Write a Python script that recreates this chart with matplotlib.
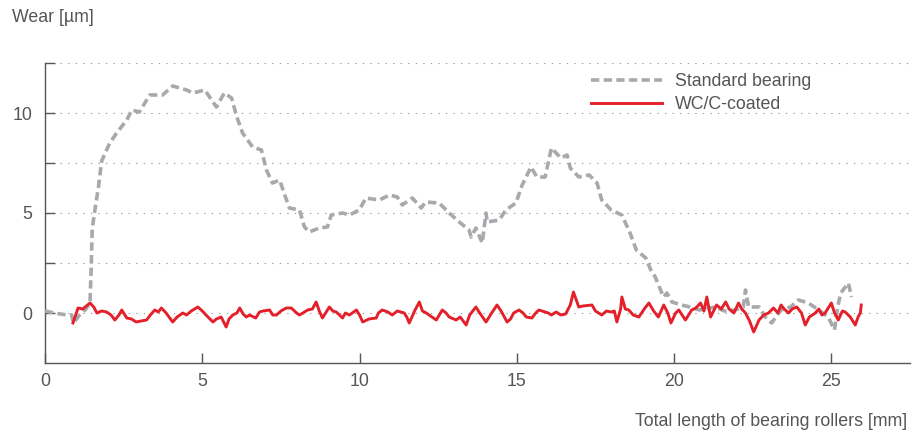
import matplotlib.pyplot as plt
import numpy as np

plt.rcParams['font.family'] = ['Liberation Sans', 'DejaVu Sans']

# Wear profile of the uncoated bearing
std_x = [0.0, 0.3, 0.5, 0.7, 0.85, 0.9, 1.1, 1.3, 1.43, 1.47, 1.5, 1.6, 1.7, 1.8,
         2.06, 2.3, 2.6, 2.76, 3.0, 3.33, 3.74, 4.06, 4.5, 4.7, 5.08, 5.45, 5.7,
         5.93, 6.1, 6.28, 6.6, 6.88, 7.04, 7.23, 7.46, 7.6, 7.77, 8.09, 8.25, 8.4,
         8.72, 8.98, 9.1, 9.46, 9.68, 9.99, 10.2, 10.63, 10.95, 11.2, 11.36, 11.68,
         11.96, 12.1, 12.53, 12.85, 13.17, 13.48, 13.55, 13.7, 13.9, 14.02, 14.06,
         14.44, 14.65, 14.97, 15.17, 15.45, 15.64, 15.9, 16.1, 16.4, 16.6, 16.7,
         16.97, 17.3, 17.55, 17.7, 18.0, 18.34, 18.6, 18.8, 19.1, 19.26, 19.4,
         19.57, 19.67, 19.77, 19.93, 20.24, 20.5, 20.8, 21.3, 21.6, 21.95, 22.2,
         22.27, 22.37, 22.7, 22.9, 23.1, 23.4, 23.7, 23.95, 24.27, 24.6, 24.9,
         25.1, 25.2, 25.3, 25.54, 25.64]
std_y = [0.1, 0.0, -0.05, -0.1, -0.1, -0.5, -0.1, 0.2, 0.5, 2.3, 4.2, 5.3, 6.3, 7.6,
         8.5, 9.05, 9.65, 10.15, 10.05, 10.9, 10.9, 11.35, 11.15, 11.0, 11.15, 10.3,
         11.0, 10.75, 9.8, 9.0, 8.3, 8.15, 7.15, 6.5, 6.65, 6.0, 5.25, 5.15, 4.3,
         4.05, 4.25, 4.3, 4.9, 5.0, 4.9, 5.15, 5.75, 5.65, 5.9, 5.8, 5.4, 5.75, 5.25,
         5.55, 5.5, 5.0, 4.55, 4.15, 3.8, 4.25, 3.5, 5.0, 4.55, 4.65, 5.15, 5.5, 6.4,
         7.3, 6.8, 6.8, 8.25, 7.75, 7.9, 7.25, 6.8, 6.9, 6.5, 5.65, 5.15, 4.9, 4.0,
         3.15, 2.75, 2.15, 1.8, 1.15, 0.8, 1.0, 0.55, 0.4, 0.3, 0.15, 0.3, 0.1, 0.15,
         0.3, 1.15, 0.3, 0.3, -0.2, -0.5, 0.15, 0.3, 0.65, 0.5, 0.15, -0.2, -0.85,
         0.3, 1.0, 1.5, 0.8]

# Wear profile of the WC/C-coated bearing
wc_x = [0.89, 1.05, 1.2, 1.43, 1.55, 1.65, 1.8, 1.96, 2.1, 2.22, 2.35, 2.44, 2.6,
        2.75, 2.9, 3.05, 3.23, 3.35, 3.49, 3.6, 3.7, 3.85, 4.06, 4.2, 4.38, 4.5,
        4.65, 4.86, 5.0, 5.15, 5.34, 5.45, 5.6, 5.76, 5.85, 5.97, 6.1, 6.19, 6.3,
        6.4, 6.5, 6.7, 6.82, 6.93, 7.14, 7.24, 7.36, 7.5, 7.67, 7.83, 8.0, 8.09,
        8.2, 8.35, 8.5, 8.62, 8.72, 8.82, 8.92, 9.04, 9.15, 9.26, 9.46, 9.55, 9.68,
        9.9, 10.0, 10.1, 10.3, 10.53, 10.6, 10.72, 10.9, 11.04, 11.2, 11.42, 11.5,
        11.58, 11.75, 11.9, 12.0, 12.12, 12.3, 12.44, 12.63, 12.75, 12.85, 13.07,
        13.2, 13.39, 13.5, 13.7, 13.8, 14.02, 14.2, 14.37, 14.5, 14.69, 14.8, 14.9,
        15.07, 15.2, 15.3, 15.48, 15.6, 15.7, 15.8, 16.0, 16.1, 16.25, 16.4, 16.55,
        16.7, 16.8, 16.9, 16.97, 17.1, 17.39, 17.5, 17.7, 17.85, 18.0, 18.1, 18.18,
        18.3, 18.34, 18.45, 18.56, 18.7, 18.88, 19.05, 19.2, 19.35, 19.5, 19.67,
        19.8, 19.9, 20.05, 20.15, 20.36, 20.56, 20.69, 20.84, 20.95, 21.04, 21.16,
        21.35, 21.5, 21.64, 21.75, 21.9, 22.05, 22.15, 22.27, 22.4, 22.53, 22.7,
        22.85, 23.0, 23.16, 23.3, 23.4, 23.5, 23.64, 23.75, 23.9, 24.05, 24.17,
        24.3, 24.49, 24.6, 24.7, 24.8, 25.0, 25.1, 25.22, 25.35, 25.44, 25.6,
        25.76, 25.85, 25.92, 25.95]
wc_y = [-0.5, 0.25, 0.2, 0.5, 0.3, 0.0, 0.1, 0.05, -0.1, -0.35, -0.1, 0.15, -0.25,
        -0.3, -0.45, -0.4, -0.35, -0.1, 0.15, 0.05, 0.25, 0.0, -0.45, -0.2, 0.0,
        -0.1, 0.1, 0.3, 0.1, -0.15, -0.45, -0.3, -0.2, -0.7, -0.3, -0.1, 0.0, 0.25,
        -0.05, -0.2, -0.1, -0.25, 0.05, 0.1, 0.15, -0.1, -0.1, 0.1, 0.25, 0.25, 0.0,
        -0.1, 0.0, 0.15, 0.2, 0.55, 0.1, -0.25, 0.0, 0.3, 0.1, 0.05, -0.25, 0.0,
        -0.1, 0.15, -0.1, -0.45, -0.3, -0.25, 0.0, 0.15, 0.05, -0.1, 0.1, 0.0, -0.2,
        -0.5, 0.1, 0.55, 0.1, 0.0, -0.2, -0.35, 0.15, 0.0, -0.2, -0.35, -0.2, -0.6,
        -0.1, 0.3, 0.05, -0.45, 0.0, 0.4, 0.1, -0.45, -0.3, 0.0, 0.15, 0.0, -0.2,
        -0.25, 0.0, 0.15, 0.1, 0.0, -0.1, 0.05, -0.1, -0.05, 0.4, 1.05, 0.6, 0.3,
        0.35, 0.4, 0.1, -0.1, 0.1, 0.05, 0.1, -0.45, 0.2, 0.8, 0.2, 0.15, -0.1,
        -0.2, 0.2, 0.5, 0.1, -0.2, 0.4, 0.0, -0.5, 0.0, 0.15, -0.35, 0.15, 0.25,
        0.5, 0.1, 0.8, -0.2, 0.4, 0.2, 0.55, 0.2, 0.0, 0.5, 0.2, 0.0, -0.4, -0.95,
        -0.35, -0.1, 0.0, 0.25, 0.0, 0.4, 0.2, 0.0, 0.2, 0.3, 0.0, -0.6, -0.2, 0.0,
        0.2, -0.1, 0.0, 0.5, 0.0, -0.35, 0.1, 0.05, -0.2, -0.6, -0.2, 0.0, 0.4]

text_color = '#555555'
fs = 12.8

fig = plt.figure(figsize=(9.24, 4.33), dpi=100)
ax = fig.add_axes([45 / 924, 1 - 363 / 433, 865 / 924, 300 / 433])

ax.plot(std_x, std_y, color='#a7a9ac', lw=2.6, dashes=(2.3, 1.2),
        label='Standard bearing', zorder=3)
ax.plot(wc_x, wc_y, color='#e4202a', lw=2.1, label='WC/C-coated', zorder=4)

ax.set_xlim(0, 27.5)
ax.set_ylim(-2.5, 12.5)
ax.set_xticks(np.arange(0, 26, 5))
ax.set_yticks([0, 5, 10])
ax.set_yticks([2.5, 7.5, 12.5], minor=True)

for y in [0, 2.5, 5, 7.5, 10, 12.5]:
    ax.axhline(y, color='#9a9a9a', lw=0.8, dashes=(1.2, 5.6), zorder=1)

for side in ['top', 'right']:
    ax.spines[side].set_visible(False)
for side in ['left', 'bottom']:
    ax.spines[side].set_color(text_color)
    ax.spines[side].set_linewidth(1.0)

ax.tick_params(axis='both', which='both', direction='in', length=7, width=1,
               color=text_color, labelcolor=text_color, labelsize=fs)
ax.tick_params(axis='y', pad=9)
ax.tick_params(axis='x', pad=7)

leg = ax.legend(loc='upper left', bbox_to_anchor=(0.613, 1.02), frameon=False,
                handlelength=4.0, handletextpad=0.7, labelspacing=0.35,
                fontsize=fs)
for t in leg.get_texts():
    t.set_color(text_color)

fig.text(12 / 924, 1 - 18 / 433, 'Wear [µm]', fontsize=fs, color=text_color,
         ha='left', va='center')
fig.text(907 / 924, 1 - 422 / 433, 'Total length of bearing rollers [mm]',
         fontsize=fs, color=text_color, ha='right', va='center')

fig.savefig('out.png', dpi=100)
